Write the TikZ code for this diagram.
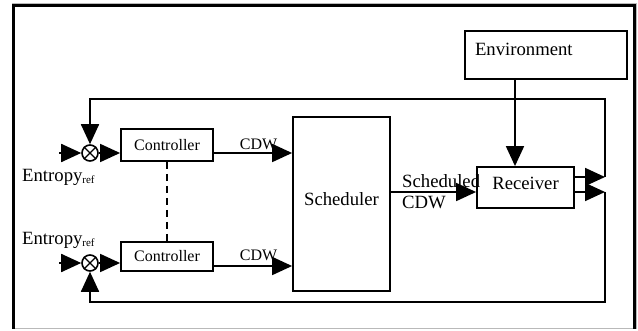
\documentclass[tikz,border=0pt]{standalone}
\usepackage{fontspec}
\setmainfont{Liberation Serif}
\usetikzlibrary{arrows.meta}
\begin{document}
\begin{tikzpicture}[x=1pt,y=-1pt,
  box/.style={draw, line width=1.8pt, inner sep=0pt},
  conn/.style={line width=1.8pt},
  arr/.style={conn, -{Triangle[length=20pt,width=18pt]}},
  big/.style={font=\fontsize{18.7}{22}\selectfont},
  small/.style={font=\fontsize{16}{19}\selectfont},
  lbl/.style={inner sep=0pt},
  sumj/.style={draw, circle, line width=1.6pt, minimum size=16pt, inner sep=0pt}]
\useasboundingbox (0,0) rectangle (638,331);
% frame
\draw[gray!55, line width=1pt] (12,3.5) rectangle (636.5,329);
\draw[line width=3pt] (13.5,329) -- (13.5,6) -- (634.5,6) -- (634.5,329);
% nodes
\node[sumj] (s1) at (90,153) {};
\node[sumj] (s2) at (90,263) {};
\draw[line width=1.4pt] (s1.45) -- (s1.225) (s1.135) -- (s1.315);
\draw[line width=1.4pt] (s2.45) -- (s2.225) (s2.135) -- (s2.315);
\node[box, minimum width=92pt, minimum height=32pt, small] (c1) at (167,145) {Controller};
\node[box, minimum width=92pt, minimum height=29pt, small] (c2) at (167,256.5) {Controller};
\node[box, minimum width=97pt, minimum height=174pt, big, text depth=10pt] (sch) at (341.5,204) {Scheduler};
\node[box, minimum width=97pt, minimum height=41pt, big, text depth=8pt] (rec) at (525.5,187.5) {Receiver};
\node[box, minimum width=162pt, minimum height=48pt, big, text width=142pt, inner xsep=10pt, align=left, text depth=12pt] (env) at (546,55) {Environment};
% labels
\node[big, lbl, anchor=base west] (e1) at (22,182) {Entropy\raisebox{-2pt}{\fontsize{11}{11}\selectfont ref}};
\node[big, lbl, anchor=base west] (e2) at (22,245) {Entropy\raisebox{-2pt}{\fontsize{11}{11}\selectfont ref}};
\node[small, lbl, anchor=base] (l1) at (258.5,150) {CDW};
\node[small, lbl, anchor=base] (l2) at (258.5,261) {CDW};
\node[big, lbl, anchor=base west] (l3) at (402,188) {Scheduled};
\node[big, lbl, anchor=base west] (l4) at (402,209) {CDW};
% coordinates
\coordinate (in1) at (59,153);
\coordinate (in2) at (59,263);
\coordinate (k2) at (0,266);
\coordinate (sy) at (0,192);
\coordinate (ex) at (515,0);
\coordinate (rc1) at (605,177);
\coordinate (rc2) at (605,192);
\coordinate (fbt) at (605,99);
\coordinate (fbb) at (605,302);
% connectors
\draw[arr] (in1) -- (s1.west);
\draw[arr] (s1.east) -- (s1.east -| c1.west);
\draw[arr] (c1.east |- s1) -- (sch.west |- s1);
\draw[arr] (in2) -- (s2.west);
\draw[arr] (s2.east) -- (s2.east -| c2.west);
\draw[arr] (c2.east |- k2) -- (sch.west |- k2);
\draw[conn, dash pattern=on 7pt off 5pt] (c1.south) -- (c2.north);
\draw[arr] (sch.east |- sy) -- (rec.west |- sy);
\draw[arr] (env.south -| ex) -- (rec.north -| ex);
\draw[arr] (rec.east |- rc1) -- (rc1);
\draw[arr] (rec.east |- rc2) -- (rc2);
\draw[arr] (rc1) -- (fbt) -| (s1.north);
\draw[arr] (rc2) -- (fbb) -| (s2.south);
\end{tikzpicture}
\end{document}
